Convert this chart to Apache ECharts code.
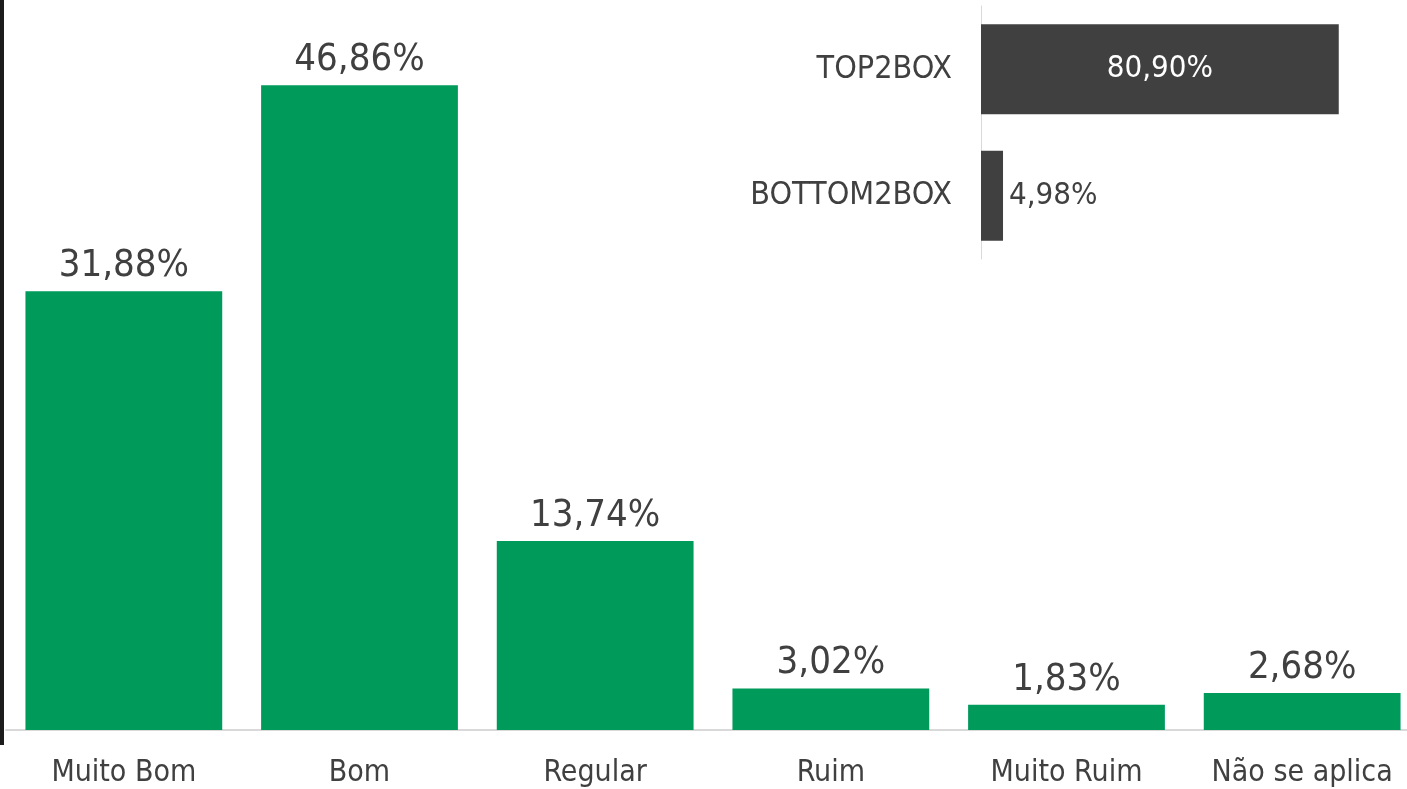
<!DOCTYPE html>
<html>
<head>
<meta charset="utf-8">
<script src="https://cdn.jsdelivr.net/npm/echarts@6/dist/echarts.min.js"></script>
<style>
  html, body { margin: 0; padding: 0; background: #fff; overflow: hidden; }
  #chart-container { width: 1422px; height: 789px; }
  #edge { position: absolute; left: 0; top: 0; width: 4px; height: 745px; background: #1c1c1c; }
</style>
</head>
<body>
<div id="chart-container"></div>
<div id="edge"></div>
<script>
var categories = ['Muito Bom', 'Bom', 'Regular', 'Ruim', 'Muito Ruim', 'Não se aplica'];
var values = [31.88, 46.86, 13.74, 3.02, 1.83, 2.68];

var boxCategories = ['BOTTOM2BOX', 'TOP2BOX'];
var boxValues = [4.98, 80.90];

var FONT = '"DejaVu Sans Condensed", "DejaVu Sans", sans-serif';
var TEXT = '#404040';

function pct(p) {
  return p.value.toFixed(2).replace('.', ',') + '%';
}

var dom = document.getElementById('chart-container');
var myChart = echarts.init(dom, null, { renderer: 'canvas' });

var option = {
  animation: false,
  backgroundColor: '#fff',
  grid: [
    { left: 6, width: 1414, top: 42, bottom: 59, containLabel: false },
    { left: 981, width: 398, top: 6, height: 253, containLabel: false }
  ],
  xAxis: [
    {
      gridIndex: 0,
      type: 'category',
      data: categories,
      axisLine: { lineStyle: { color: '#d9d9d9', width: 2 } },
      axisTick: { show: false },
      axisLabel: { color: TEXT, fontFamily: FONT, fontSize: 30, margin: 28, interval: 0 }
    },
    {
      gridIndex: 1,
      type: 'value',
      min: 0,
      max: 90,
      show: false
    }
  ],
  yAxis: [
    {
      gridIndex: 0,
      type: 'value',
      min: 0,
      max: 50,
      show: false
    },
    {
      gridIndex: 1,
      type: 'category',
      data: boxCategories,
      axisLine: { lineStyle: { color: '#d9d9d9', width: 1 } },
      axisTick: { show: false },
      axisLabel: { color: TEXT, fontFamily: FONT, fontSize: 32, margin: 29 }
    }
  ],
  series: [
    {
      type: 'bar',
      xAxisIndex: 0,
      yAxisIndex: 0,
      data: values,
      barCategoryGap: '16.5%',
      itemStyle: { color: '#009A5B' },
      label: {
        show: true,
        position: 'top',
        distance: 6,
        color: TEXT,
        fontFamily: FONT,
        fontSize: 38,
        formatter: pct
      }
    },
    {
      type: 'bar',
      xAxisIndex: 1,
      yAxisIndex: 1,
      data: boxValues.map(function (v, i) {
        return {
          value: v,
          label: i === 1
            ? { position: 'inside', color: '#fff' }
            : { position: 'right', color: TEXT, distance: 6 }
        };
      }),
      barCategoryGap: '29%',
      itemStyle: { color: '#404040' },
      label: {
        show: true,
        fontFamily: FONT,
        fontSize: 31,
        formatter: pct
      }
    }
  ]
};

myChart.setOption(option);
window.addEventListener('resize', myChart.resize);
</script>
</body>
</html>
